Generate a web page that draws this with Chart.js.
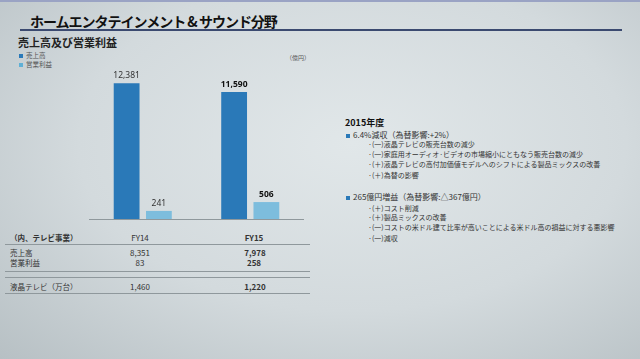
<!DOCTYPE html>
<html>
<head>
<meta charset="utf-8">
<script src="https://cdn.jsdelivr.net/npm/chart.js@4/dist/chart.umd.min.js"></script>
<style>
  body { margin: 0; }
  #slide {
    position: relative; width: 640px; height: 359px; overflow: hidden;
    background: radial-gradient(ellipse at 55% 40%, #e1e7e9 0%, #d3dadd 55%, #b7c0c4 100%);
    font-family: "Noto Sans CJK JP", "Noto Sans", sans-serif; color: #333;
  }
  .t { position: absolute; white-space: nowrap; line-height: 1; }
  .hl { position: absolute; height: 1px; background: #8f989c; }
  .c { transform: translateX(-50%); }
  .sq { display: inline-block; width: 4px; height: 4px; margin-right: 3px; vertical-align: middle; }
  #wrap { position: absolute; left: 89px; top: 60px; width: 215px; height: 160px; }
</style>
</head>
<body>
<div id="slide">
  <div style="position:absolute;left:0;top:0;width:640px;height:2px;background:#9aa3c4;"></div>
  <div class="t" style="left:30px;top:14px;font-size:14px;letter-spacing:-1px;font-weight:bold;color:#111;">ホームエンタテインメント &amp; サウンド分野</div>
  <div class="hl" style="left:20px;top:29px;width:602px;height:2px;background:#3b4a70;"></div>
  <div class="t" style="left:18px;top:37px;font-size:11px;font-weight:bold;color:#222;">売上高及び営業利益</div>

  <div class="t" style="left:19px;top:52px;font-size:6.5px;line-height:7px;color:#555;"><span class="sq" style="background:#2a79b8"></span>売上高</div>
  <div class="t" style="left:19px;top:61px;font-size:6.5px;line-height:7px;color:#555;"><span class="sq" style="background:#5fb0d6"></span>営業利益</div>
  <div class="t" style="left:286px;top:55px;font-size:6px;color:#555;">（億円）</div>

  <div id="wrap"><canvas id="chart"></canvas></div>

  <div class="t" style="left:10px;top:234px;font-size:7.5px;font-weight:bold;">（内、テレビ事業）</div>
  <div class="t c" style="left:140px;top:234px;font-size:8px;">FY14</div>
  <div class="t c" style="left:254px;top:234px;font-size:8px;font-weight:bold;">FY15</div>
  <div class="hl" style="left:5px;top:244px;width:305px;"></div>
  <div class="t" style="left:10px;top:249px;font-size:7.5px;">売上高</div>
  <div class="t" style="left:10px;top:259px;font-size:7.5px;">営業利益</div>
  <div class="t c" style="left:140px;top:249px;font-size:8px;">8,351</div>
  <div class="t c" style="left:140px;top:259px;font-size:8px;">83</div>
  <div class="t c" style="left:255px;top:249px;font-size:8px;font-weight:bold;">7,978</div>
  <div class="t c" style="left:254px;top:259px;font-size:8px;font-weight:bold;">258</div>
  <div class="hl" style="left:5px;top:271px;width:305px;"></div>
  <div class="hl" style="left:5px;top:277px;width:305px;"></div>
  <div class="t" style="left:10px;top:283px;font-size:7.5px;">液晶テレビ（万台）</div>
  <div class="t c" style="left:140px;top:283px;font-size:8px;">1,460</div>
  <div class="t c" style="left:255px;top:283px;font-size:8px;font-weight:bold;">1,220</div>
  <div class="hl" style="left:5px;top:293px;width:305px;"></div>

  <div class="t" style="left:345px;top:118px;font-size:9px;font-weight:bold;color:#111;">2015年度</div>
  <div class="t" style="left:346px;top:131px;font-size:8px;"><span class="sq" style="background:#2a79b8"></span>6.4%減収（為替影響:+2%）</div>
  <div class="t" style="left:368px;top:141px;font-size:7px;">·(一)液晶テレビの販売台数の減少</div>
  <div class="t" style="left:368px;top:151px;font-size:7px;">·(一)家庭用オーディオ·ビデオの市場縮小にともなう販売台数の減少</div>
  <div class="t" style="left:368px;top:161px;font-size:7px;">·(＋)液晶テレビの高付加価値モデルへのシフトによる製品ミックスの改善</div>
  <div class="t" style="left:368px;top:172px;font-size:7px;">·(＋)為替の影響</div>
  <div class="t" style="left:346px;top:193px;font-size:8px;"><span class="sq" style="background:#2a79b8"></span>265億円増益（為替影響:△367億円）</div>
  <div class="t" style="left:368px;top:205px;font-size:7px;">·(＋)コスト削減</div>
  <div class="t" style="left:368px;top:214px;font-size:7px;">·(＋)製品ミックスの改善</div>
  <div class="t" style="left:368px;top:224px;font-size:7px;">·(一)コストの米ドル建て比率が高いことによる米ドル高の損益に対する悪影響</div>
  <div class="t" style="left:368px;top:235px;font-size:7px;">·(一)減収</div>
</div>

<script>
const years = ['FY14', 'FY15'];
const sales = [12381, 11590];
const opIncome = [241, 506];

// labels above each bar
const valueLabels = {
    id: 'valueLabels',
    afterDatasetsDraw(chart) {
        const ctx = chart.ctx;
        ctx.save();
        ctx.textAlign = 'center';
        ctx.textBaseline = 'bottom';
        chart.data.datasets.forEach((ds, i) => {
            chart.getDatasetMeta(i).data.forEach((bar, j) => {
                ctx.font = (j == 1 ? 'bold ' : '') + '8.5px "Noto Sans", sans-serif';
                ctx.fillStyle = j == 1 ? '#111' : '#333';
                ctx.fillText(ds.data[j].toLocaleString('en-US'), bar.x, bar.y - 3);
            });
        });
        // baseline
        const a = chart.chartArea;
        ctx.strokeStyle = '#8f989c';
        ctx.lineWidth = 1;
        ctx.beginPath();
        ctx.moveTo(a.left, a.bottom + 0.5);
        ctx.lineTo(a.right, a.bottom + 0.5);
        ctx.stroke();
        ctx.restore();
    }
};

new Chart(document.getElementById('chart'), {
    type: 'bar',
    data: {
        labels: years,
        datasets: [
            { label: '売上高', data: sales, backgroundColor: '#2a79b8', yAxisID: 'y' },
            { label: '営業利益', data: opIncome, backgroundColor: '#7dbddd', yAxisID: 'y2' }
        ]
    },
    options: {
        responsive: true,
        maintainAspectRatio: false,
        animation: false,
        categoryPercentage: 0.6,
        barPercentage: 0.8,
        layout: { padding: { bottom: 1 } },
        plugins: { legend: { display: false }, tooltip: { enabled: false } },
        scales: {
            x: { display: false },
            y: { display: false, min: 0, max: 14500 },
            y2: { display: false, min: 0, max: 4750 }
        }
    },
    plugins: [valueLabels]
});
</script>
</body>
</html>
